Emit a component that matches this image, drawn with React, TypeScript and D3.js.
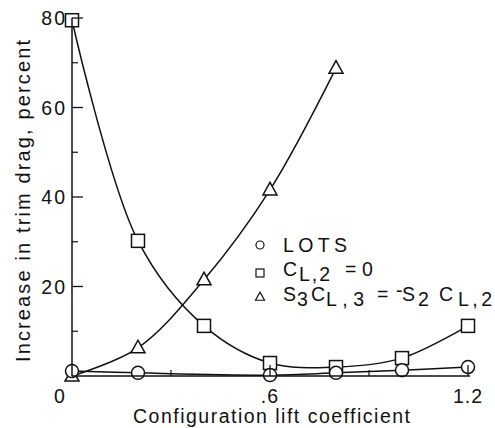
import React from "react";
import * as d3 from "d3";

const W = 495;
const H = 428;

const lotsX = [0, 0.2, 0.6, 0.8, 1.0, 1.2];
const lotsY = [1.1, 0.7, 0.2, 0.7, 1.3, 2.0];

const squareX = [0, 0.2, 0.4, 0.6, 0.8, 1.0, 1.2];
const squareY = [79.5, 30.2, 11.2, 2.9, 2.0, 4.0, 11.2];

const triX = [0, 0.2, 0.4, 0.6, 0.8];
const triY = [0, 6.3, 21.5, 41.6, 68.8];

const yMajor = [20, 40, 60, 80];
const yMinor = [10, 30, 50, 70];
const xMajor = [0.6, 1.2];
const xMinor = [0.3, 0.9];
const xLabels = [
  { v: 0, t: "0" },
  { v: 0.6, t: ".6" },
  { v: 1.2, t: "1.2" },
];

const FONT = "'Liberation Sans', Arial, Helvetica, sans-serif";

export default function App() {
  const x = d3.scaleLinear().domain([0, 1.2]).range([72, 468]);
  const y = d3.scaleLinear().domain([0, 80]).range([376, 18]);

  const line = d3
    .line<[number, number]>()
    .x((d) => x(d[0]))
    .y((d) => y(d[1]))
    .curve(d3.curveCatmullRom.alpha(0.5));

  const lots: [number, number][] = lotsX.map((v, i) => [v, lotsY[i]]);
  const sq: [number, number][] = squareX.map((v, i) => [v, squareY[i]]);
  const tri: [number, number][] = triX.map((v, i) => [v, triY[i]]);

  const triPath = (cx: number, cy: number, s: number) => {
    const h = s * 0.9;
    return `M${cx},${cy - h * 0.6}L${cx + s / 2},${cy + h * 0.4}L${cx - s / 2},${cy + h * 0.4}Z`;
  };

  const stroke = "#111";
  const fs = 19.5;

  return (
    <svg
      width={W}
      height={H}
      style={{ position: "absolute", left: 0, top: 0, background: "#fff" }}
      fontFamily={FONT}
    >
      <rect x={0} y={0} width={W} height={H} fill="#fff" />
      {/* curves */}
      <path d={line(sq) || ""} fill="none" stroke={stroke} strokeWidth={1.5} />
      <path d={line(tri) || ""} fill="none" stroke={stroke} strokeWidth={1.5} />
      <path d={line(lots) || ""} fill="none" stroke={stroke} strokeWidth={1.5} />

      {/* markers */}
      {sq.map((d, i) => (
        <rect
          key={"s" + i}
          x={x(d[0]) - 6.5}
          y={y(d[1]) - 6.5}
          width={13}
          height={13}
          fill="#fff"
          stroke={stroke}
          strokeWidth={1.5}
        />
      ))}
      {tri.map((d, i) => (
        <path
          key={"t" + i}
          d={triPath(x(d[0]), y(d[1]), 14)}
          fill="#fff"
          stroke={stroke}
          strokeWidth={1.5}
        />
      ))}
      {lots.map((d, i) => (
        <circle
          key={"c" + i}
          cx={x(d[0])}
          cy={y(d[1])}
          r={6.5}
          fill="#fff"
          stroke={stroke}
          strokeWidth={1.5}
        />
      ))}

      {/* axes */}
      <line x1={x(0)} x2={x(0)} y1={y(0)} y2={y(80)} stroke={stroke} strokeWidth={1.5} />
      <line x1={x(0)} x2={x(1.2) + 2} y1={y(0)} y2={y(0)} stroke={stroke} strokeWidth={1.5} />
      {yMajor.map((v) => (
        <line key={"ym" + v} x1={x(0)} x2={x(0) + 11} y1={y(v)} y2={y(v)} stroke={stroke} strokeWidth={1.3} />
      ))}
      {yMinor.map((v) => (
        <line key={"yn" + v} x1={x(0)} x2={x(0) + 6} y1={y(v)} y2={y(v)} stroke={stroke} strokeWidth={1.2} />
      ))}
      {xMajor.map((v) => (
        <line key={"xm" + v} x1={x(v)} x2={x(v)} y1={y(0)} y2={y(0) - 11} stroke={stroke} strokeWidth={1.3} />
      ))}
      {xMinor.map((v) => (
        <line key={"xn" + v} x1={x(v)} x2={x(v)} y1={y(0)} y2={y(0) - 6} stroke={stroke} strokeWidth={1.2} />
      ))}

      {/* tick labels */}
      {yMajor.map((v) => (
        <text
          key={"yl" + v}
          x={x(0) - 5}
          y={y(v)}
          dy="0.36em"
          textAnchor="end"
          fontSize={fs}
          letterSpacing={2}
          fill={stroke}
        >
          {v}
        </text>
      ))}
      {xLabels.map((l) => (
        <text
          key={"xl" + l.v}
          x={x(l.v) + (l.v === 0 ? -12 : 0)}
          y={403}
          textAnchor="middle"
          fontSize={fs}
          letterSpacing={1}
          fill={stroke}
        >
          {l.t}
        </text>
      ))}

      {/* axis titles */}
      <text x={133} y={423} fontSize={fs} fill={stroke} textLength={277} lengthAdjust="spacing">
        Configuration lift coefficient
      </text>
      <text
        transform={`translate(30,362) rotate(-90)`}
        fontSize={20}
        fill={stroke}
        textLength={322}
        lengthAdjust="spacing"
      >
        Increase in trim drag, percent
      </text>

      {/* legend */}
      <circle cx={260} cy={245} r={4} fill="#fff" stroke={stroke} strokeWidth={1.2} />
      <rect x={256} y={269} width={8} height={8} fill="#fff" stroke={stroke} strokeWidth={1.2} />
      <path d={triPath(260, 297, 9)} fill="#fff" stroke={stroke} strokeWidth={1.2} />

      <text x={283} y={252} fontSize={fs} fill={stroke} textLength={64} lengthAdjust="spacing">
        LOTS
      </text>
      <text y={276} fontSize={fs} fill={stroke}>
        <tspan x={283}>C</tspan>
        <tspan x={299} y={281} textLength={31} lengthAdjust="spacing">L,2</tspan>
        <tspan x={345} y={276}>=</tspan>
        <tspan x={362} y={276}>0</tspan>
      </text>
      <text y={301} fontSize={fs} fill={stroke}>
        <tspan x={283}>S</tspan>
        <tspan x={297} y={306}>3</tspan>
        <tspan x={311} y={301}>C</tspan>
        <tspan x={326} y={306} textLength={38} lengthAdjust="spacing">L,3</tspan>
        <tspan x={377} y={301}>=</tspan>
        <tspan x={396} y={297}>-</tspan>
        <tspan x={402} y={301}>S</tspan>
        <tspan x={418} y={306}>2</tspan>
        <tspan x={439} y={301}>C</tspan>
        <tspan x={458} y={306} textLength={34} lengthAdjust="spacing">L,2</tspan>
      </text>
    </svg>
  );
}
